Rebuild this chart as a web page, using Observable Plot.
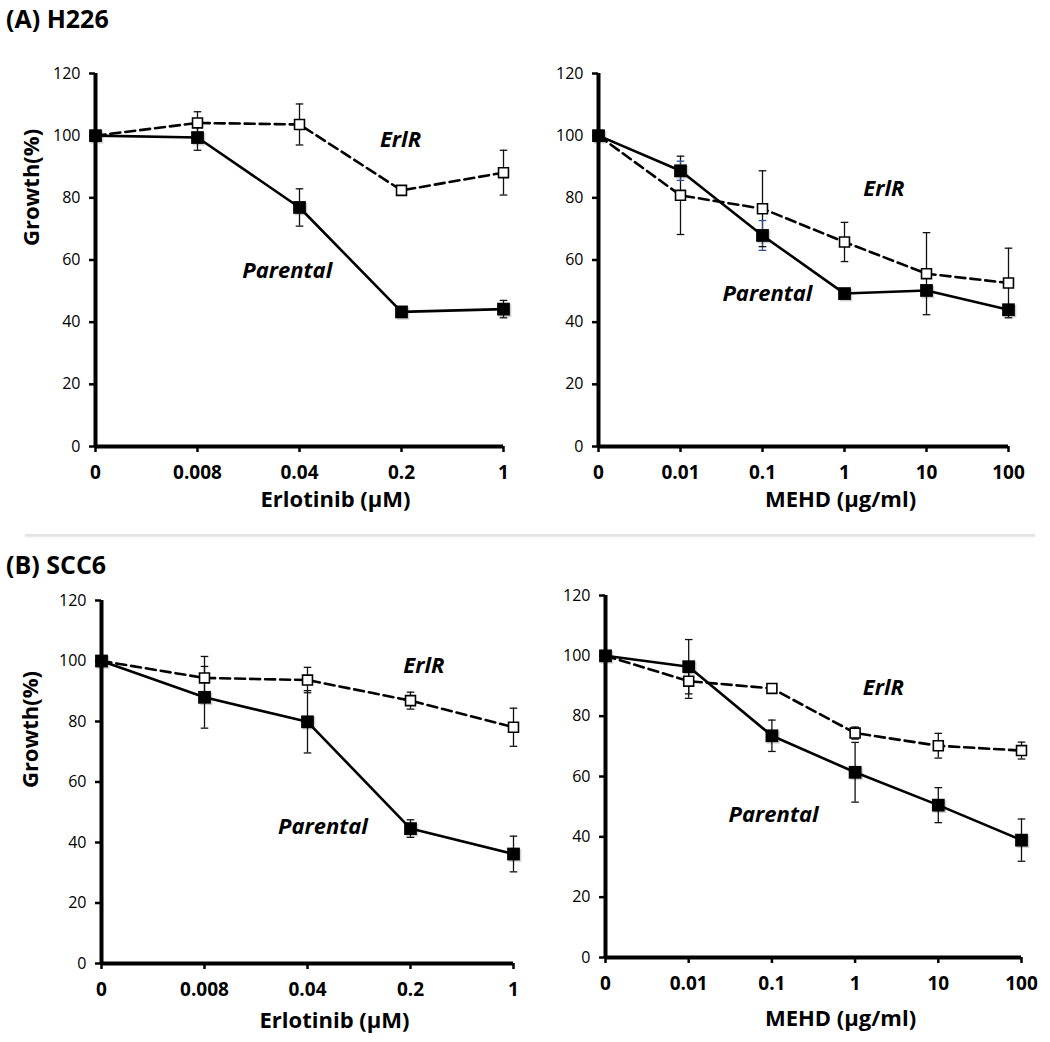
<!DOCTYPE html>
<html><head><meta charset="utf-8">
<script src="https://cdn.jsdelivr.net/npm/d3@7"></script>
<script src="https://cdn.jsdelivr.net/npm/@observablehq/plot@0.6"></script>
<style>
body{margin:0;background:#fff;font-family:"Open Sans",sans-serif;}
#wrap{position:relative;width:1050px;height:1042px;overflow:hidden;background:#fff;}
.panel{position:absolute;}
.title{position:absolute;font-weight:700;font-size:25px;color:#000;line-height:30px;white-space:nowrap;}
.sep{position:absolute;left:25px;width:1010px;top:534px;height:2px;background:#e4e4e4;box-shadow:0 1px 2px rgba(0,0,0,0.12);}
</style></head><body>
<div id="wrap">
  <div class="title" style="left:6px;top:3px">(A) H226</div>
  <div class="sep"></div>
  <div class="title" style="left:6px;top:549px">(B) SCC6</div>
  <div class="panel" id="pA1" style="left:0px;top:30px"></div>
  <div class="panel" id="pA2" style="left:520px;top:30px"></div>
  <div class="panel" id="pB1" style="left:0px;top:560px"></div>
  <div class="panel" id="pB2" style="left:520px;top:560px"></div>
</div>
<script>
// ---- data ----
const erlotinibDoses = ["0", "0.008", "0.04", "0.2", "1"];
const mehdDoses = ["0", "0.01", "0.1", "1", "10", "100"];
const yTicks = [0, 20, 40, 60, 80, 100, 120];

// (A) H226, erlotinib
const h226ErlParental   = [100, 99.4, 76.9, 43.3, 44.2];
const h226ErlParentalSD = [0, 4.1, 6.0, 1.0, 2.8];
const h226ErlResistant   = [100, 104.1, 103.6, 82.4, 88.1];
const h226ErlResistantSD = [0, 3.6, 6.6, 1.0, 7.2];

// (A) H226, MEHD
const h226MehdParental   = [100, 88.7, 67.9, 49.2, 50.2, 44.0];
const h226MehdParentalSD = [0, 3.1, 4.8, 1.0, 1.0, 1.0];
const h226MehdResistant   = [100, 80.8, 76.5, 65.8, 55.6, 52.6];
const h226MehdResistantSD = [0, 12.6, 12.2, 6.3, 13.2, 11.2];

// (B) SCC6, erlotinib
const scc6ErlParental   = [100, 88.0, 79.9, 44.6, 36.2];
const scc6ErlParentalSD = [0, 10.2, 10.3, 2.9, 5.9];
const scc6ErlResistant   = [100, 94.4, 93.7, 86.9, 78.1];
const scc6ErlResistantSD = [0, 7.1, 4.2, 2.8, 6.3];

// (B) SCC6, MEHD
const scc6MehdParental   = [100, 96.4, 73.5, 61.4, 50.5, 38.9];
const scc6MehdParentalSD = [0, 9.0, 5.2, 9.9, 5.8, 7.0];
const scc6MehdResistant   = [100, 91.6, 89.2, 74.4, 70.2, 68.6];
const scc6MehdResistantSD = [0, 5.7, 1.0, 2.0, 4.1, 2.8];

const seriesNames = ["ErlR", "Parental"];
const xTitles = ["Erlotinib (\u03bcM)", "MEHD (\u03bcg/ml)"];
const yTitle = "Growth(%)";

// label anchors (dose index, growth value)
const h226ErlLabelAt  = [[2.99, 98.5], [1.88, 56.6]];
const h226MehdLabelAt = [[3.48, 83.0], [2.06, 49.2]];
const scc6ErlLabelAt  = [[3.13, 98.5], [2.15, 45.0]];
const scc6MehdLabelAt = [[3.34, 89.5], [2.02, 47.1]];

// ---- drawing ----
const capSymbol = {draw(ctx) { ctx.moveTo(-3.8, 0); ctx.lineTo(3.8, 0); }};
const FONT = "Open Sans";

function panel(cfg) {
  const n = cfg.doses.length;
  const rows = cfg.doses.map((d, i) => ({i, par: cfg.par[i], res: cfg.res[i]}));
  const errs = [];
  cfg.doses.forEach((d, i) => {
    if (cfg.resSD[i] > 0) errs.push({i, lo: cfg.res[i] - cfg.resSD[i], hi: cfg.res[i] + cfg.resSD[i], c: "#111"});
    if (cfg.parSD[i] > 0) errs.push({i, lo: cfg.par[i] - cfg.parSD[i], hi: cfg.par[i] + cfg.parSD[i], c: cfg.parErrColor});
  });
  const caps = errs.flatMap(e => [{i: e.i, v: e.lo, c: e.c}, {i: e.i, v: e.hi, c: e.c}]);
  const labels = seriesNames.map((s, k) => ({text: s, x: cfg.labelAt[k][0], y: cfg.labelAt[k][1]}));
  const marks = [
    Plot.ruleX([0], {strokeWidth: 4, stroke: "#000"}),
    Plot.ruleY([0], {strokeWidth: 4, stroke: "#000"}),
    Plot.axisY({ticks: yTicks, tickSize: 6, tickPadding: 9, fontSize: 16, strokeWidth: 2.5, label: null}),
    Plot.axisX({ticks: d3.range(n), tickFormat: i => cfg.doses[i], tickSize: 6, tickPadding: 13,
      fontSize: 19, fontWeight: "bold", strokeWidth: 2.5, label: null}),
    Plot.ruleX(errs, {x: "i", y1: "lo", y2: "hi", stroke: "c", strokeWidth: 1.3}),
    Plot.dot(caps, {x: "i", y: "v", symbol: capSymbol, stroke: "c", fill: "none", strokeWidth: 1.3, r: 4}),
    Plot.line(rows, {x: "i", y: "res", stroke: "#000", strokeWidth: 2.6, strokeDasharray: "10,5"}),
    Plot.line(rows, {x: "i", y: "par", stroke: "#000", strokeWidth: 2.6}),
    Plot.dot(rows, {x: "i", y: "res", symbol: "square", r: 5.6, fill: "#fff", stroke: "#000", strokeWidth: 1.6}),
    Plot.dot(rows, {x: "i", y: "par", symbol: "square", r: 7.2, fill: "#000", stroke: "none", dx: 1.5, dy: 1.5, fillOpacity: 0.18}),
    Plot.dot(rows, {x: "i", y: "par", symbol: "square", r: 7.2, fill: "#000", stroke: "none"}),
    Plot.text(labels, {x: "x", y: "y", text: "text", fontSize: 22, fontWeight: "bold", fontStyle: "italic", fill: "#000"}),
    Plot.text([cfg.xTitle], {text: d => d, frameAnchor: "bottom", dy: cfg.xTitleDy, dx: cfg.xTitleDx,
      fontSize: 22, fontWeight: "bold", fill: "#000"})
  ];
  if (cfg.showY) marks.push(Plot.text([yTitle], {text: d => d, y: [cfg.yTitleAt], frameAnchor: "left", rotate: -90,
      dx: cfg.yTitleDx, fontSize: 22, fontWeight: "bold", fill: "#000"}));
  const svg = Plot.plot({
    width: cfg.w, height: cfg.h,
    marginLeft: cfg.m[3], marginRight: cfg.m[1], marginTop: cfg.m[0], marginBottom: cfg.m[2],
    x: {type: "linear", domain: [0, n - 1]},
    y: {type: "linear", domain: [0, 120]},
    style: {fontFamily: FONT, color: "#000", background: "transparent", overflow: "visible"},
    marks
  });
  document.getElementById(cfg.id).appendChild(svg);
}

panel({id: "pA1", doses: erlotinibDoses, par: h226ErlParental, parSD: h226ErlParentalSD,
  res: h226ErlResistant, resSD: h226ErlResistantSD, parErrColor: "#111", labelAt: h226ErlLabelAt,
  xTitle: xTitles[0], showY: true, w: 520, h: 500, m: [43, 17, 84, 95],
  xTitleDx: 36, xTitleDy: 60, yTitleDx: -64, yTitleAt: 64.5});
panel({id: "pA2", doses: mehdDoses, par: h226MehdParental, parSD: h226MehdParentalSD,
  res: h226MehdResistant, resSD: h226MehdResistantSD, parErrColor: "#2f4f8f", labelAt: h226MehdLabelAt,
  xTitle: xTitles[1], showY: false, w: 530, h: 500, m: [43, 42, 84, 78],
  xTitleDx: 37, xTitleDy: 60});
panel({id: "pB1", doses: erlotinibDoses, par: scc6ErlParental, parSD: scc6ErlParentalSD,
  res: scc6ErlResistant, resSD: scc6ErlResistantSD, parErrColor: "#111", labelAt: scc6ErlLabelAt,
  xTitle: xTitles[0], showY: true, w: 520, h: 482, m: [40, 7, 79, 101],
  xTitleDx: 27, xTitleDy: 64, yTitleDx: -71, yTitleAt: 58});
panel({id: "pB2", doses: mehdDoses, par: scc6MehdParental, parSD: scc6MehdParentalSD,
  res: scc6MehdResistant, resSD: scc6MehdResistantSD, parErrColor: "#111", labelAt: scc6MehdLabelAt,
  xTitle: xTitles[1], showY: false, w: 530, h: 482, m: [35, 29, 85, 85],
  xTitleDx: 27, xTitleDy: 68});
</script>
</body></html>
